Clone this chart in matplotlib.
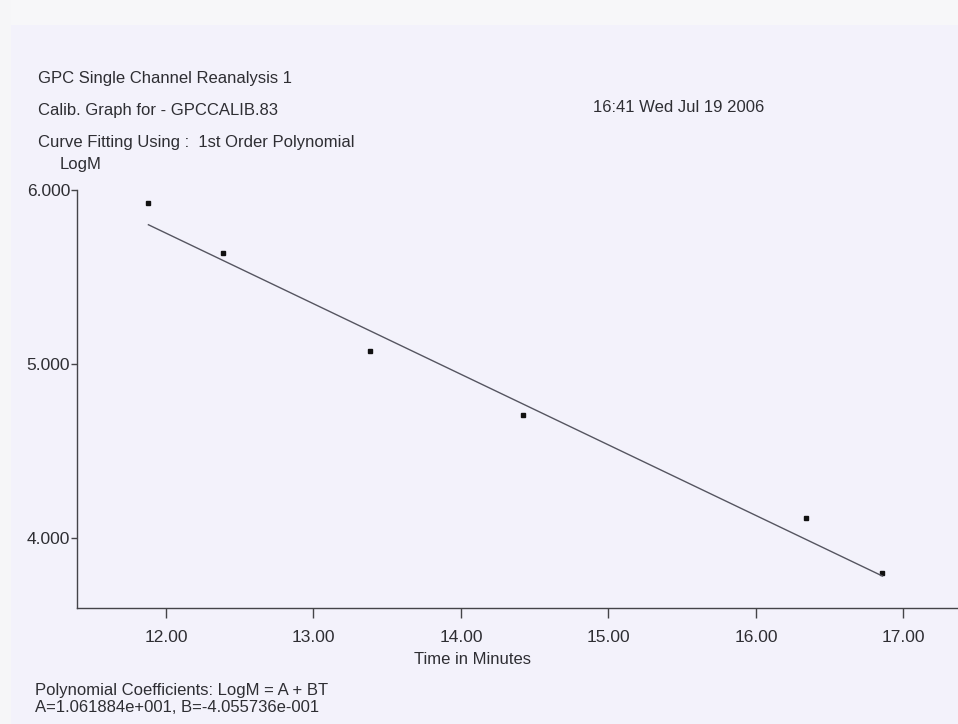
import matplotlib
matplotlib.use("Agg")
import matplotlib.pyplot as plt
import numpy as np

plt.rcParams['font.family'] = ['Liberation Sans', 'DejaVu Sans']

# Data
time_min = [11.881, 12.390, 13.382, 14.420, 16.338, 16.858]
log_m = [5.924, 5.636, 5.073, 4.707, 4.117, 3.801]
coef_a = 10.61884
coef_b = -0.4055736
x_ticks = [12.0, 13.0, 14.0, 15.0, 16.0, 17.0]
x_tick_labels = ["12.00", "13.00", "14.00", "15.00", "16.00", "17.00"]
y_ticks = [4.0, 5.0, 6.0]
y_tick_labels = ["4.000", "5.000", "6.000"]

bg = "#f3f2fb"
ink = "#2e2e33"

fig = plt.figure(figsize=(9.58, 7.24), dpi=100)
fig.patch.set_facecolor(bg)
# scan border strips
fig.add_artist(plt.Rectangle((0, 0.965), 1, 0.035, transform=fig.transFigure,
                             facecolor="#f7f7f9", edgecolor="none", zorder=0))
fig.add_artist(plt.Rectangle((0, 0), 0.012, 1, transform=fig.transFigure,
                             facecolor="#f6f6f8", edgecolor="none", zorder=0))

ax = fig.add_axes([0.0804, 0.1602, 0.9196, 0.5774])
ax.set_facecolor(bg)

ax.plot(time_min, log_m, linestyle="none", marker="s", markersize=3,
        color="#111111")
fit_x = np.array([time_min[0], time_min[-1]])
fit_y = coef_a + coef_b * fit_x
ax.plot(fit_x, fit_y, color="#555560", linewidth=1.0)

ax.set_xlim(11.397, 17.37)
ax.set_ylim(3.598, 6.0)
ax.set_xticks(x_ticks)
ax.set_xticklabels(x_tick_labels)
ax.set_yticks(y_ticks)
ax.set_yticklabels(y_tick_labels)
for s in ["top", "right"]:
    ax.spines[s].set_visible(False)
for s in ["left", "bottom"]:
    ax.spines[s].set_color("#444448")
    ax.spines[s].set_linewidth(1.0)
ax.tick_params(axis="x", direction="out", length=7, width=1, color="#444448",
               labelsize=12.5, labelcolor=ink, pad=9)
ax.tick_params(axis="y", direction="out", length=4, width=1, color="#444448",
               labelsize=12.5, labelcolor=ink, pad=1)

W, H = 958, 724
def ftxt(x, y, s, **kw):
    fig.text(x / W, 1 - y / H, s, color=ink, fontsize=12, va="center", **kw)

ftxt(38, 78, "GPC Single Channel Reanalysis 1")
ftxt(38, 110, "Calib. Graph for - GPCCALIB.83")
ftxt(38, 142, "Curve Fitting Using :  1st Order Polynomial")
ftxt(60, 165, "LogM")
ftxt(593, 107, "16:41 Wed Jul 19 2006")
ftxt(473, 660, "Time in Minutes", ha="center")
ftxt(35, 690, "Polynomial Coefficients: LogM = A + BT")
ftxt(35, 708, "A=1.061884e+001, B=-4.055736e-001")

fig.savefig("out.png", dpi=100, facecolor=fig.get_facecolor())
